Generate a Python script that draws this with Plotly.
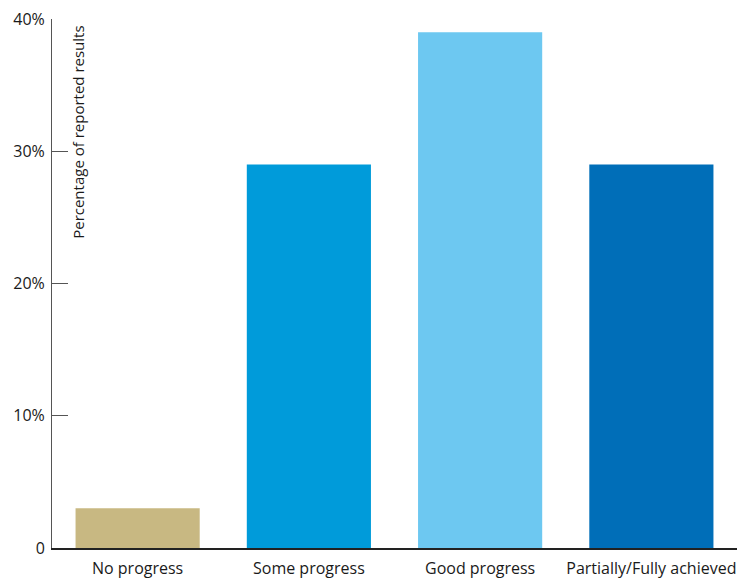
import plotly.graph_objects as go

categories = ["No progress", "Some progress", "Good progress", "Partially/Fully achieved"]
values = [3, 29, 39, 29]
colors = ["#C8B882", "#009BDA", "#6DC8F1", "#006EB8"]
tick_vals = [0, 10, 20, 30, 40]
tick_text = ["0", "10%", "20%", "30%", "40%"]

fig = go.Figure(go.Bar(x=categories, y=values, marker=dict(color=colors, line=dict(width=0)),
                       hoverinfo="skip"))

font_family = "Open Sans, sans-serif"
fig.update_layout(
    width=739, height=584,
    margin=dict(l=52, r=2, t=19, b=36),
    paper_bgcolor="white", plot_bgcolor="white",
    bargap=0.275,
    showlegend=False,
    font=dict(family=font_family, size=16, color="#1a1a1a"),
    xaxis=dict(showline=True, linecolor="#222", linewidth=1.5, ticks="",
               tickfont=dict(size=16), showgrid=False, ticklabelstandoff=5),
    yaxis=dict(range=[0, 40], tickvals=tick_vals, ticktext=tick_text,
               showline=True, linecolor="#555", linewidth=1, ticks="inside",
               ticklen=16, tickcolor="#555", tickwidth=1, showgrid=False, zeroline=False,
               tickfont=dict(size=16), ticklabelstandoff=3),
    annotations=[dict(text="Percentage of reported results", textangle=-90,
                      xref="paper", yref="paper", x=0.038, y=0.99,
                      xanchor="center", yanchor="top", showarrow=False,
                      font=dict(size=15, color="#1a1a1a"))],
)

fig.write_html("out.html")
